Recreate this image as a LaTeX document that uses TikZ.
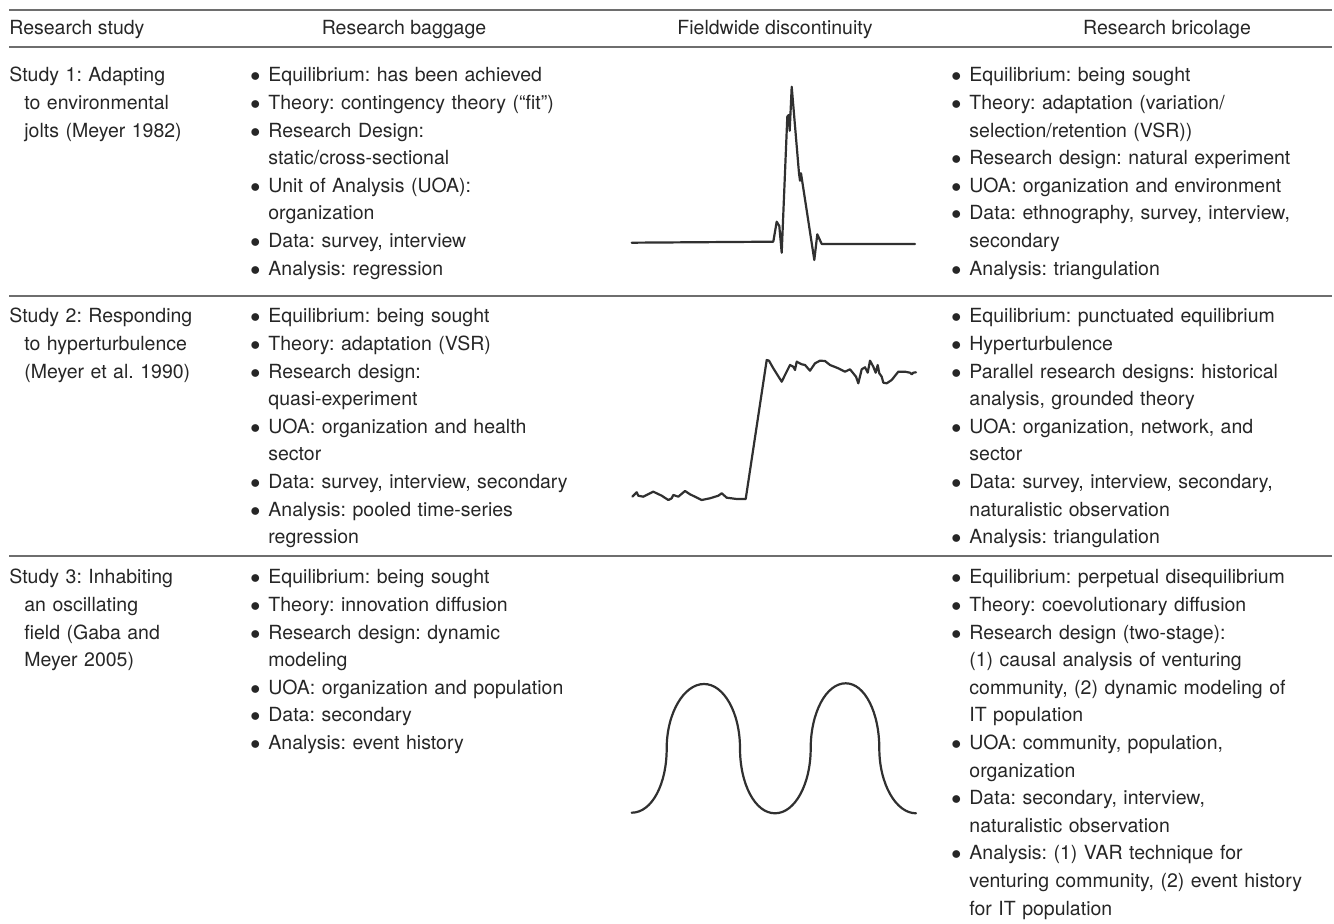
\documentclass[tikz,border=0pt]{standalone}
\usepackage{fontspec}
\setmainfont{TeX Gyre Heros}
\definecolor{txtgray}{HTML}{262626}
\definecolor{rulegray}{HTML}{6E6E6E}
\definecolor{plotgray}{HTML}{303030}
\newcommand{\tabfont}{\fontsize{9.75pt}{13.8pt}\selectfont\frenchspacing}
\newcommand{\bitem}{\makebox[9pt][l]{$\bullet$}}
\newcommand{\bcont}{\hspace*{9pt}}
\newcommand{\scont}{\hspace*{7.5pt}}

\begin{document}
\begin{tikzpicture}[x=0.5pt,y=0.5pt]
		\tikzset{
			cell/.style=
			{anchor=base west,inner sep=0pt,text width=#1,align=left,font=\tabfont,text=txtgray},
			headcell/.style=
			{inner sep=0pt,font=\tabfont,text=txtgray},
			tablerule/.style=
			{draw=rulegray,line width=1pt},
			plotline/.style=
			{draw=plotgray,line width=1.1pt,line join=round,line cap=round},
		}
		\useasboundingbox (0,0) rectangle (1334,-924);
		% rules
		\draw[tablerule] (9,-10) -- (1332,-10);
		\draw[tablerule] (9,-47) -- (1332,-47);
		\draw[tablerule] (9,-296) -- (1332,-296);
		\draw[tablerule] (9,-556) -- (1332,-556);
		% header
		\node[headcell,anchor=base west] (hstudy) at (9,-35) {Research study};
		\node[headcell,anchor=base] (hbaggage) at (404,-35) {Research baggage};
		\node[headcell,anchor=base] (hdiscont) at (775,-35) {Fieldwide discontinuity};
		\node[headcell,anchor=base] (hbricolage) at (1167,-35) {Research bricolage};
		% study 1
		\begin{scope}
		\node[cell=120pt] (study1) at (9,-82)
		{Study 1: Adapting\\ \scont to environmental\\ \scont jolts (Meyer 1982)};
		\node[cell=175pt] (baggage1) at (250,-82)
		{\bitem Equilibrium: has been achieved\\
		\bitem Theory: contingency theory (“fit”)\\
		\bitem Research Design:\\ \bcont static/cross-sectional\\
		\bitem Unit of Analysis (UOA):\\ \bcont organization\\
		\bitem Data: survey, interview\\
		\bitem Analysis: regression};
		\node[cell=190pt] (bricolage1) at (951,-82)
		{\bitem Equilibrium: being sought\\
		\bitem Theory: adaptation (variation/\\ \bcont selection/retention (VSR))\\
		\bitem Research design: natural experiment\\
		\bitem UOA: organization and environment\\
		\bitem Data: ethnography, survey, interview,\\ \bcont secondary\\
		\bitem Analysis: triangulation};
		\draw[plotline] (631.7,-242.7) -- (773.3,-241.7) -- (776.7,-221.7) -- (779.3,-226)
		-- (781.7,-252.7) -- (787.3,-116.7) -- (788.7,-115) -- (789.7,-130.7)
		-- (791.7,-86.7) -- (799,-173.3) -- (800,-180.7) -- (801,-173.3)
		-- (814.3,-260) -- (817.3,-234.3) -- (821.7,-244) -- (915,-244);
		\end{scope}
		% study 2
		\begin{scope}
		\node[cell=120pt] (study2) at (9,-323)
		{Study 2: Responding\\ \scont to hyperturbulence\\ \scont (Meyer et al. 1990)};
		\node[cell=175pt] (baggage2) at (250,-323)
		{\bitem Equilibrium: being sought\\
		\bitem Theory: adaptation (VSR)\\
		\bitem Research design:\\ \bcont quasi-experiment\\
		\bitem UOA: organization and health\\ \bcont sector\\
		\bitem Data: survey, interview, secondary\\
		\bitem Analysis: pooled time-series\\ \bcont regression};
		\node[cell=190pt] (bricolage2) at (951,-323)
		{\bitem Equilibrium: punctuated equilibrium\\
		\bitem Hyperturbulence\\
		\bitem Parallel research designs: historical\\ \bcont analysis, grounded theory\\
		\bitem UOA: organization, network, and\\ \bcont sector\\
		\bitem Data: survey, interview, secondary,\\ \bcont naturalistic observation\\
		\bitem Analysis: triangulation};
		\draw[plotline] (632.3,-496.7) -- (636.7,-492.3) -- (638.3,-495.7) -- (643.3,-496.7)
		-- (653.3,-491.7) -- (661.7,-495.7) -- (668.3,-500) -- (671.7,-498.3)
		-- (673.3,-495) -- (678.3,-496.7) -- (685,-491) -- (690,-494.3)
		-- (695,-496.7) -- (701.7,-500) -- (710,-498.3) -- (718.3,-495.7)
		-- (721.7,-493.3) -- (726.7,-497.7) -- (736.7,-499) -- (745.7,-499)
		-- (766.7,-360) -- (769,-360.7) -- (773.3,-368.3) -- (781.7,-381.7)
		-- (785,-375) -- (790,-365) -- (793.3,-366.7) -- (795,-370)
		-- (796.7,-361.7) -- (801.7,-364.3) -- (805,-365) -- (810,-370.7)
		-- (815,-363.3) -- (820,-360.7) -- (825,-361) -- (830,-365)
		-- (838.3,-368.3) -- (845,-371.7) -- (850,-369.3) -- (856,-376.7)
		-- (858.3,-383.3) -- (861.7,-369.3) -- (865,-367.3) -- (867.7,-372.7)
		-- (870,-360.7) -- (873.3,-366.7) -- (875.7,-372.7) -- (877.7,-365)
		-- (879.3,-373.3) -- (881.7,-376.7) -- (883.3,-382.7) -- (886.7,-383.3)
		-- (891.7,-380) -- (898.3,-371.7) -- (905,-371.7) -- (910,-372.7)
		-- (911.7,-374.3) -- (913.3,-372.7) -- (916,-372.3);
		\end{scope}
		% study 3
		\begin{scope}
		\node[cell=120pt] (study3) at (9,-584)
		{Study 3: Inhabiting\\ \scont an oscillating\\ \scont field (Gaba and\\ \scont Meyer 2005)};
		\node[cell=175pt] (baggage3) at (250,-584)
		{\bitem Equilibrium: being sought\\
		\bitem Theory: innovation diffusion\\
		\bitem Research design: dynamic\\ \bcont modeling\\
		\bitem UOA: organization and population\\
		\bitem Data: secondary\\
		\bitem Analysis: event history};
		\node[cell=190pt] (bricolage3) at (951,-584)
		{\bitem Equilibrium: perpetual disequilibrium\\
		\bitem Theory: coevolutionary diffusion\\
		\bitem Research design (two-stage):\\ \bcont (1) causal analysis of venturing\\
		\bcont community, (2) dynamic modeling of\\ \bcont IT population\\
		\bitem UOA: community, population,\\ \bcont organization\\
		\bitem Data: secondary, interview,\\ \bcont naturalistic observation\\
		\bitem Analysis: (1) VAR technique for\\ \bcont venturing community, (2) event history\\
		\bcont for IT population};
		\draw[plotline] (631.7,-812.7)
		.. controls (652,-812.7) and (666.7,-784) .. (666.7,-748.3)
		.. controls (666.7,-713) and (684,-684) .. (704,-684)
		.. controls (724,-684) and (740,-713) .. (740,-748.3)
		.. controls (740,-784) and (755,-813.3) .. (775,-813.3)
		.. controls (795,-813.3) and (810.7,-784) .. (810.7,-748.3)
		.. controls (810.7,-713) and (826,-683.3) .. (845.7,-683.3)
		.. controls (865,-683.3) and (879.3,-713) .. (879.3,-748.3)
		.. controls (879.3,-784) and (896,-813.3) .. (916,-813.3);
		\end{scope}
\end{tikzpicture}
\end{document}
